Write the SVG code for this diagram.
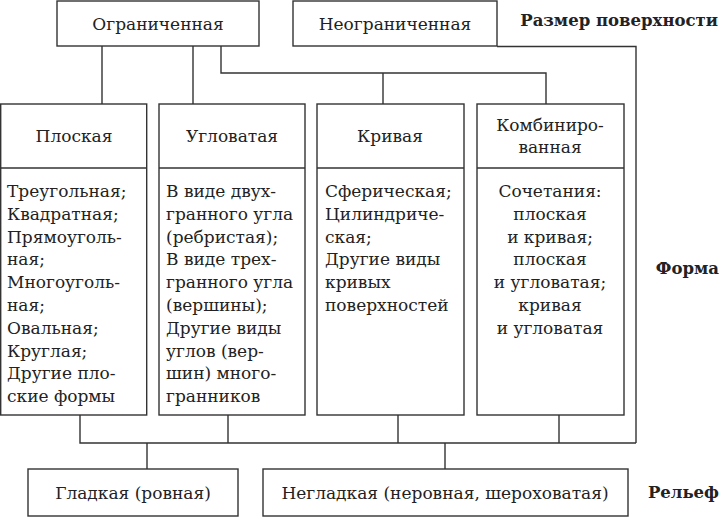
<svg xmlns="http://www.w3.org/2000/svg" width="720" height="518" viewBox="0 0 720 518">
<style>
.box{fill:#fff;stroke:#333;stroke-width:1.4}
.ln{fill:none;stroke:#333;stroke-width:1.4}
text{font-family:"DejaVu Serif","Liberation Serif",serif;font-size:17px;fill:#222}
.c{text-anchor:middle}
.b{font-weight:bold;font-size:16.5px;text-anchor:end}
</style>
<rect width="720" height="518" fill="#fff"/>
<g id="connectors">
<path class="ln" d="M102,46 V104 M193,46 V104 M221,46 V73 H546 V104 M383,73 V104"/>
<path class="ln" d="M497,46.5 H636 V443"/>
<path class="ln" d="M80,415 V443 H636 M228,415 V443 M398,415 V443 M559,415 V443"/>
<path class="ln" d="M147,443 V469 M445,443 V469"/>
</g>
<g id="limited"><rect class="box" x="57" y="1" width="202" height="45"/><text class="c" x="158" y="30">Ограниченная</text></g>
<g id="unlimited"><rect class="box" x="293" y="1" width="204" height="45"/><text class="c" x="395" y="30">Неограниченная</text></g>
<text class="b" x="718" y="26">Размер поверхности</text>
<g id="flat"><rect class="box" x="0.7" y="104" width="146" height="311"/><path class="ln" d="M0.7,168 H147"/>
<text class="c" x="74" y="142">Плоская</text>
<text x="7" y="197">Треугольная;<tspan x="7" dy="22.8">Квадратная;</tspan><tspan x="7" dy="22.8">Прямоуголь-</tspan><tspan x="7" dy="22.8">ная;</tspan><tspan x="7" dy="22.8">Многоуголь-</tspan><tspan x="7" dy="22.8">ная;</tspan><tspan x="7" dy="22.8">Овальная;</tspan><tspan x="7" dy="22.8">Круглая;</tspan><tspan x="7" dy="22.8">Другие пло-</tspan><tspan x="7" dy="22.8">ские формы</tspan></text></g>
<g id="angular"><rect class="box" x="159" y="104" width="146" height="311"/><path class="ln" d="M159,168 H305"/>
<text class="c" x="232" y="142">Угловатая</text>
<text x="166" y="197">В виде двух-<tspan x="166" dy="22.8">гранного угла</tspan><tspan x="166" dy="22.8">(ребристая);</tspan><tspan x="166" dy="22.8">В виде трех-</tspan><tspan x="166" dy="22.8">гранного угла</tspan><tspan x="166" dy="22.8">(вершины);</tspan><tspan x="166" dy="22.8">Другие виды</tspan><tspan x="166" dy="22.8">углов (вер-</tspan><tspan x="166" dy="22.8">шин) много-</tspan><tspan x="166" dy="22.8">гранников</tspan></text></g>
<g id="curved"><rect class="box" x="317" y="104" width="147" height="311"/><path class="ln" d="M317,168 H464"/>
<text class="c" x="390" y="142">Кривая</text>
<text x="325" y="197">Сферическая;<tspan x="325" dy="22.8">Цилиндриче-</tspan><tspan x="325" dy="22.8">ская;</tspan><tspan x="325" dy="22.8">Другие виды</tspan><tspan x="325" dy="22.8">кривых</tspan><tspan x="325" dy="22.8">поверхностей</tspan></text></g>
<g id="combined"><rect class="box" x="477" y="104" width="147" height="311"/><path class="ln" d="M477,168 H624"/>
<text class="c" x="550" y="131">Комбиниро-<tspan x="550" dy="22">ванная</tspan></text>
<text class="c" x="550" y="197">Сочетания:<tspan x="550" dy="22.8">плоская</tspan><tspan x="550" dy="22.8">и кривая;</tspan><tspan x="550" dy="22.8">плоская</tspan><tspan x="550" dy="22.8">и угловатая;</tspan><tspan x="550" dy="22.8">кривая</tspan><tspan x="550" dy="22.8">и угловатая</tspan></text></g>
<text class="b" x="719" y="274">Форма</text>
<g id="smooth"><rect class="box" x="28" y="469" width="210" height="47"/><text class="c" x="133" y="499">Гладкая (ровная)</text></g>
<g id="rough"><rect class="box" x="263" y="469" width="365" height="47"/><text class="c" x="445" y="499">Негладкая (неровная, шероховатая)</text></g>
<text class="b" x="719" y="498">Рельеф</text>
</svg>
